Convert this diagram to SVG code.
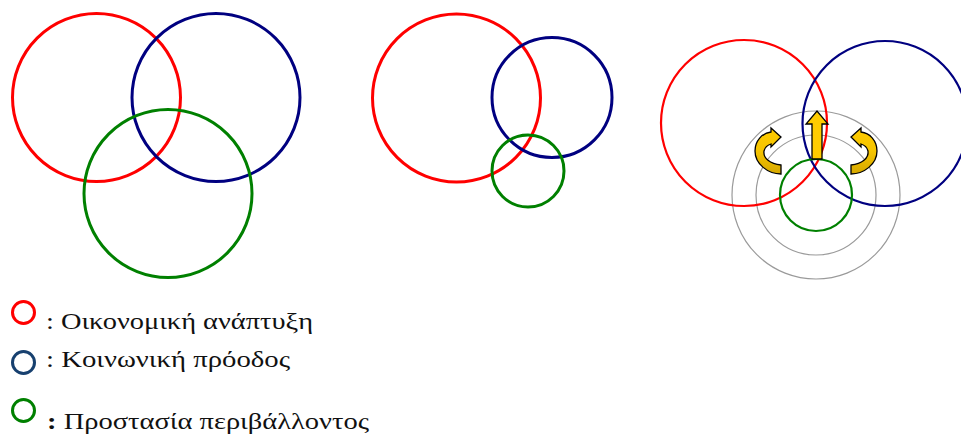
<svg xmlns="http://www.w3.org/2000/svg" width="961" height="434" viewBox="0 0 961 434">
<style>
.c{fill:none}
.r{stroke:#FF0000}
.b{stroke:#000080}
.g{stroke:#008000}
.w3{stroke-width:3}
.w2{stroke-width:2.2}
.gray{fill:none;stroke:#9A9A9A;stroke-width:1.2}
.t{font-family:"Liberation Serif","Times New Roman",serif;font-size:24px;fill:#111}
.arr{stroke:#000;stroke-width:1.3;stroke-linejoin:miter}
</style>
<defs>
<linearGradient id="gold" x1="0" y1="0" x2="0" y2="1">
<stop offset="0" stop-color="#FFCC00"/>
<stop offset="0.5" stop-color="#F5C400"/>
<stop offset="1" stop-color="#D6A800"/>
</linearGradient>
<path id="turn" d="M781,174 L781,165 C770,164 763,158 764,151 C765,147 768,145 771,144 L771,147 L781,137 L771,128 L771,132 C762,133 755,141 755,151 C755,164 768,174 781,174 Z"/>
</defs>
<rect width="961" height="434" fill="#fff"/>
<g id="set1">
<circle class="c r w3" cx="96.5" cy="97.5" r="84"/>
<circle class="c b w3" cx="216" cy="97.5" r="84"/>
<circle class="c g w3" cx="168" cy="193.5" r="84"/>
</g>
<g id="set2">
<circle class="c r w3" cx="456.5" cy="98" r="84"/>
<circle class="c b w3" cx="552" cy="97.5" r="60"/>
<circle class="c g w3" cx="528" cy="171" r="36"/>
</g>
<g id="set3">
<circle class="gray" cx="816" cy="195" r="84"/>
<circle class="gray" cx="816" cy="195" r="60"/>
<circle class="c r w2" cx="744" cy="123" r="83"/>
<circle class="c b w2" cx="885" cy="123.5" r="82.5"/>
<circle class="c g w2" cx="816" cy="195" r="36"/>
<polygon class="arr" fill="#FFCC00" points="812,159 812,124 806,124 817,111 828,124 822,124 822,159"/>
<use href="#turn" class="arr" fill="url(#gold)"/>
<use href="#turn" class="arr" fill="url(#gold)" transform="translate(1632,0) scale(-1,1)"/>
</g>
<g id="legend">
<circle class="c r w3" cx="23.5" cy="312.5" r="11"/>
<circle class="c w3" stroke="#17406F" cx="23.5" cy="362.5" r="11"/>
<circle class="c g w3" cx="23.5" cy="410.5" r="11"/>
<text class="t" x="46" y="329" textLength="267" lengthAdjust="spacingAndGlyphs">: Οικονομική ανάπτυξη</text>
<text class="t" x="46" y="367" textLength="244" lengthAdjust="spacingAndGlyphs">: Κοινωνική πρόοδος</text>
<text class="t" x="47" y="429" textLength="322" lengthAdjust="spacingAndGlyphs"><tspan font-weight="bold">:</tspan> Προστασία περιβάλλοντος</text>
</g>
</svg>
